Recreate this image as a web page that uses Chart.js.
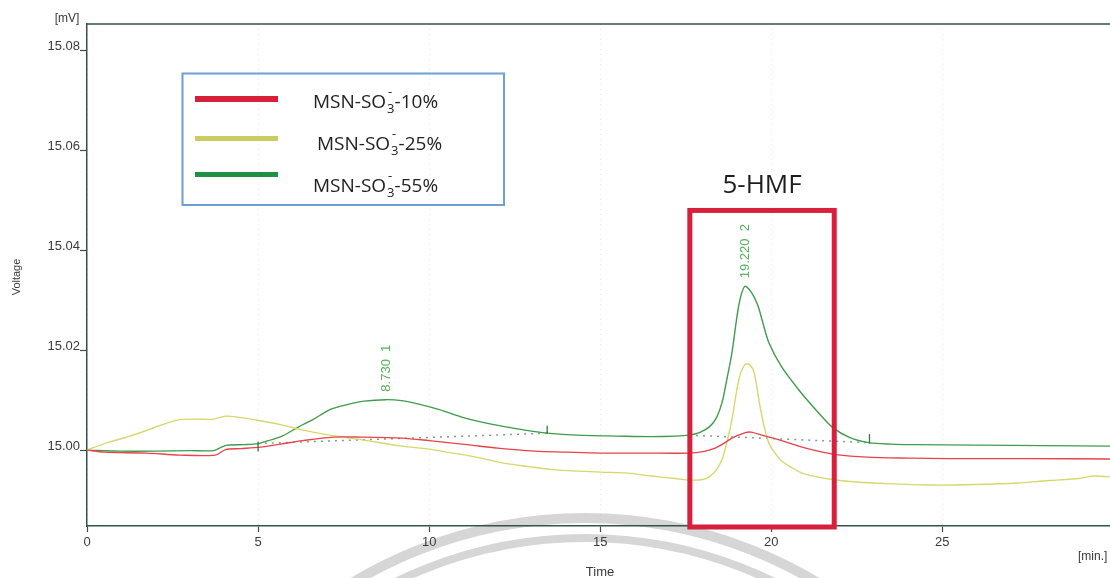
<!DOCTYPE html>
<html><head><meta charset="utf-8">
<script src="https://cdn.jsdelivr.net/npm/chart.js@4.4.1/dist/chart.umd.min.js"></script>
<style>html,body{margin:0;padding:0;background:#fff;overflow:hidden}canvas{display:block}</style>
</head><body>
<canvas id="c" width="1110" height="578"></canvas>
<script>
// ---- data (time in min, voltage in mV) ----
const seriesNames = ["MSN-SO₃⁻-10%", "MSN-SO₃⁻-25%", "MSN-SO₃⁻-55%"];

const redT = [0,0.5,1.75,2.7,3.75,4.05,4.5,5.07,5.66,6.3,7.2,8.0,9.2,10.0,11.1,12.0,13.1,14.0,15.0,16.3,17.6,18.0,18.36,18.6,18.85,19.2,19.4,19.83,20.3,20.8,21.3,21.9,22.8,24.0,25.2,27.5,30];
const redV = [15.0000,14.9996,14.9994,14.9990,14.9990,15.0001,15.0003,15.0006,15.0012,15.0019,15.0026,15.0026,15.0024,15.0019,15.0011,15.0004,14.9998,14.9996,14.9994,14.9994,14.9994,14.9997,15.0004,15.0013,15.0024,15.0034,15.0036,15.0028,15.0019,15.0008,14.9999,14.9991,14.9986,14.9984,14.9983,14.9983,14.9982];

const yelT = [0,0.6,1.26,1.8,2.2,2.7,3.2,3.7,4.05,4.5,4.87,5.66,6.25,7.0,8.0,9.2,10.0,10.6,11.3,12.1,12.9,13.6,15.0,15.8,16.5,17.2,17.6,18.0,18.2,18.4,18.56,18.7,18.85,19.05,19.2,19.3,19.4,19.5,19.67,19.8,19.93,20.1,20.3,20.6,20.9,21.3,21.8,22.5,23.3,24.7,26.0,27.2,28.1,29.0,29.4,30];
const yelV = [15.0000,15.0015,15.0028,15.0041,15.0051,15.0061,15.0062,15.0062,15.0068,15.0065,15.0061,15.0051,15.0041,15.0031,15.0021,15.0008,15.0002,14.9995,14.9987,14.9975,14.9967,14.9961,14.9956,14.9954,14.9948,14.9943,14.9940,14.9941,14.9947,14.9961,14.9981,15.0015,15.0061,15.0141,15.0169,15.0173,15.0169,15.0155,15.0088,15.0045,15.0014,14.9995,14.9978,14.9965,14.9954,14.9947,14.9941,14.9936,14.9933,14.9930,14.9931,14.9934,14.9939,14.9943,14.9948,14.9946];

const grnT = [0,1.0,2.0,3.0,3.7,3.9,4.1,4.6,5.0,5.3,5.7,6.2,6.6,7.1,7.6,8.1,8.73,9.2,9.7,10.3,11.0,11.6,12.2,12.8,13.45,14.0,14.75,15.5,16.5,17.2,17.6,17.9,18.2,18.4,18.56,18.7,18.85,19.05,19.22,19.4,19.6,19.73,19.93,20.3,20.8,21.3,21.8,22.3,22.85,23.5,24.2,26,28,30];
const grnV = [15.0000,14.9998,14.9998,14.9999,14.9999,15.0005,15.0010,15.0011,15.0013,15.0019,15.0028,15.0047,15.0061,15.0081,15.0091,15.0098,15.0101,15.0099,15.0092,15.0081,15.0065,15.0055,15.0047,15.0040,15.0034,15.0031,15.0029,15.0028,15.0027,15.0028,15.0030,15.0035,15.0047,15.0065,15.0095,15.0141,15.0195,15.0290,15.0328,15.0318,15.0291,15.0261,15.0215,15.0167,15.0121,15.0081,15.0045,15.0025,15.0015,15.0012,15.0011,15.0010,15.0009,15.0008];

// integration baselines (dotted)
const base1T = [5.0, 13.45];  const base1V = [15.0013, 15.0034];
const base2T = [17.6, 22.85]; const base2V = [15.0030, 15.0015];
// integration marks (time, from, to)
const markT = [5.0, 13.45, 22.87];
const markFrom = [15.0017, 15.0033, 15.0013];
const markTo = [14.9997, 15.0049, 15.0032];
// peak annotations
const peakTimes = [8.730, 19.220];
const peakNums = [1, 2];
// highlighted region (5-HMF)
const boxT = [17.62, 21.84];
const boxV = [15.048, 14.9846];
const boxLabel = "5-HMF";
// axis ticks
const yTicks = [15.00, 15.02, 15.04, 15.06, 15.08];
const xTicks = [0, 5, 10, 15, 20, 25];

const zip = (t, v) => t.map((x, i) => ({x, y: v[i]}));
const interp = (t, v, x) => { for (let i = 1; i < t.length; i++) { if (x <= t[i]) { const f = (x - t[i-1]) / (t[i] - t[i-1]); return v[i-1] + f * (v[i] - v[i-1]); } } return v[v.length-1]; };

const lineColors = ['#e6434b', '#d6d86c', '#3f9c4c'];
const legendColors = ['#d8203a', '#c9cd62', '#1f8f43'];
const AX = '#34524e';

const deco = {
  id: 'deco',
  beforeDraw(chart) {
    const c = chart.ctx;
    c.save();
    c.strokeStyle = '#d6d6d6';
    c.lineWidth = 10;
    c.beginPath(); c.arc(585, 968, 450, Math.PI, 2 * Math.PI); c.stroke();
    c.lineWidth = 8;
    c.beginPath(); c.arc(585, 968, 430, Math.PI, 2 * Math.PI); c.stroke();
    c.restore();
  },
  afterDatasetsDraw(chart) {
    const c = chart.ctx, xs = chart.scales.x, ys = chart.scales.y;
    c.save();
    c.strokeStyle = '#2e7d32'; c.lineWidth = 1.3;
    markT.forEach((t, i) => {
      const x = xs.getPixelForValue(t);
      c.beginPath(); c.moveTo(x, ys.getPixelForValue(markFrom[i])); c.lineTo(x, ys.getPixelForValue(markTo[i])); c.stroke();
    });
    c.fillStyle = '#55b35a';
    c.font = '13px "Liberation Sans", Arial, sans-serif';
    c.textAlign = 'left'; c.textBaseline = 'middle';
    peakTimes.forEach((t, i) => {
      const x = xs.getPixelForValue(t);
      const y = ys.getPixelForValue(interp(grnT, grnV, t)) - 8;
      c.save(); c.translate(x + 1, y); c.rotate(-Math.PI / 2);
      c.fillText(t.toFixed(3) + '  ' + peakNums[i], 0, 0);
      c.restore();
    });
    c.restore();
  },
  afterDraw(chart) {
    const c = chart.ctx, xs = chart.scales.x, ys = chart.scales.y, a = chart.chartArea;
    c.save();
    c.strokeStyle = AX; c.lineWidth = 1.5;
    c.beginPath(); c.moveTo(a.left, a.top); c.lineTo(a.right, a.top); c.stroke();
    c.fillStyle = '#3a3a3a';
    c.font = '12px "Liberation Sans", Arial, sans-serif';
    c.textBaseline = 'middle';
    c.textAlign = 'center'; c.fillText('[mV]', 67, 19);
    c.textAlign = 'left'; c.fillText('[min.]', 1078, 557);
    c.textAlign = 'center'; c.font = '13px "Liberation Sans", Arial, sans-serif';
    c.fillText('Time', 600, 572);
    c.font = '11px "Liberation Sans", Arial, sans-serif';
    c.save(); c.translate(17, 277); c.rotate(-Math.PI / 2); c.fillText('Voltage', 0, 0); c.restore();
    const bx0 = xs.getPixelForValue(boxT[0]), bx1 = xs.getPixelForValue(boxT[1]);
    const by0 = ys.getPixelForValue(boxV[0]), by1 = ys.getPixelForValue(boxV[1]);
    c.strokeStyle = '#d81f3b'; c.lineWidth = 5;
    c.strokeRect(bx0, by0, bx1 - bx0, by1 - by0);
    c.fillStyle = '#1e1e1e';
    c.font = '26px "Open Sans", sans-serif';
    c.textAlign = 'center'; c.textBaseline = 'alphabetic';
    c.fillText(boxLabel, (bx0 + bx1) / 2, 193);
    c.strokeStyle = '#6d9fd3'; c.lineWidth = 2;
    c.strokeRect(182.5, 73.5, 321.5, 131.5);
    const rows = [{ly: 99, lw: 6, tx: 313, ty: 108}, {ly: 138.5, lw: 5, tx: 317, ty: 150}, {ly: 174.5, lw: 5, tx: 313, ty: 192}];
    chart.data.datasets.slice(0, 3).forEach((ds, i) => {
      const r = rows[i];
      c.strokeStyle = legendColors[i]; c.lineWidth = r.lw; c.lineCap = 'butt';
      c.beginPath(); c.moveTo(195, r.ly); c.lineTo(278, r.ly); c.stroke();
      let x = r.tx;
      c.fillStyle = '#222'; c.textAlign = 'left';
      const label = ds.label;
      for (let k = 0; k < label.length; k++) {
        const ch = label[k];
        if (ch === '₃') {
          c.font = '13px "Open Sans", sans-serif';
          c.fillText('3', x + 1, r.ty + 5);
          const w = c.measureText('3').width;
          c.fillText('-', x + 2, r.ty - 12);
          x += w + 1;
        } else if (ch === '⁻') {
          // stacked above the subscript
        } else {
          c.font = '19px "Open Sans", sans-serif';
          c.fillText(ch, x, r.ty);
          x += c.measureText(ch).width;
        }
      }
    });
    c.restore();
  }
};

new Chart(document.getElementById('c'), {
  type: 'line',
  data: {
    datasets: [
      {label: seriesNames[0], data: zip(redT, redV), borderColor: lineColors[0], borderWidth: 1.4},
      {label: seriesNames[1], data: zip(yelT, yelV), borderColor: lineColors[1], borderWidth: 1.4},
      {label: seriesNames[2], data: zip(grnT, grnV), borderColor: lineColors[2], borderWidth: 1.4},
      {label: 'baseline 1', data: zip(base1T, base1V), borderColor: '#7d9c90', borderWidth: 1.5, borderDash: [2, 5]},
      {label: 'baseline 2', data: zip(base2T, base2V), borderColor: '#7d9c90', borderWidth: 1.5, borderDash: [2, 5]}
    ]
  },
  options: {
    responsive: false, animation: false, devicePixelRatio: 1,
    layout: {padding: {top: 24, left: 0, right: 0, bottom: 0}},
    elements: {point: {radius: 0}, line: {tension: 0.3, fill: false}},
    plugins: {legend: {display: false}, tooltip: {enabled: false}},
    scales: {
      x: {
        type: 'linear', min: 0, max: 29.9,
        afterFit(s) { s.height = 52; },
        afterBuildTicks(s) { s.ticks = xTicks.map(v => ({value: v})); },
        ticks: {color: '#3a3a3a', font: {size: 13, family: '"Liberation Sans", Arial, sans-serif'}, padding: 3, maxRotation: 0, callback: v => String(v)},
        grid: {color: 'rgba(180,180,180,0.3)', tickColor: AX, tickLength: 6, tickWidth: 1.2, tickBorderDash: []},
        border: {color: AX, width: 1.5, dash: [1, 4]}
      },
      y: {
        type: 'linear', min: 14.9848, max: 15.08534,
        afterFit(s) { s.width = 87; },
        afterBuildTicks(s) { s.ticks = yTicks.map(v => ({value: v})); },
        ticks: {color: '#3a3a3a', font: {size: 13, family: '"Liberation Sans", Arial, sans-serif'}, padding: 0, labelOffset: -4, callback: v => v.toFixed(2)},
        grid: {drawOnChartArea: false, tickColor: AX, tickLength: 7, tickWidth: 1.2},
        border: {color: AX, width: 1.5}
      }
    }
  },
  plugins: [deco]
});
</script>
</body></html>
